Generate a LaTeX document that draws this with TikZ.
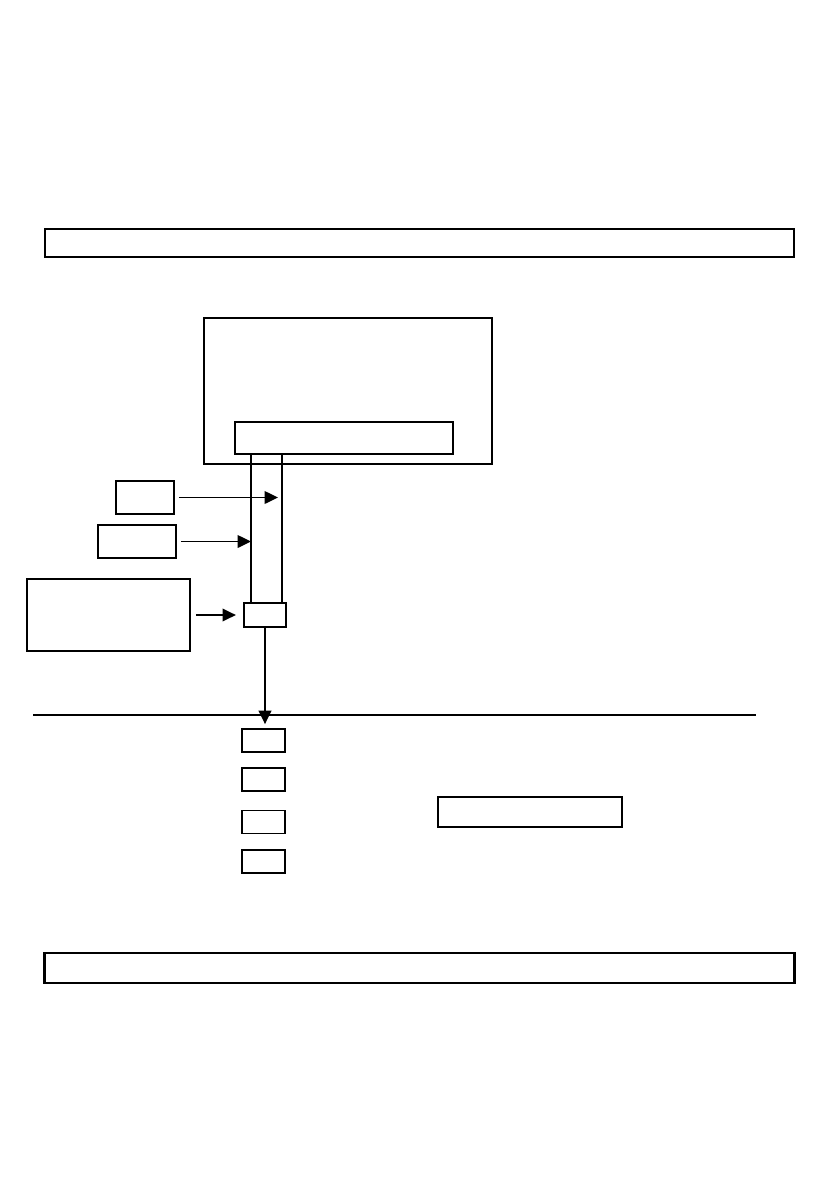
\documentclass[tikz,border=0pt]{standalone}
\usepackage{tikz}
\usetikzlibrary{arrows.meta,positioning,calc}

\begin{document}
\begin{tikzpicture}[
  x=0.025cm, y=-0.025cm,
  box/.style={draw, line width=1.3pt, inner sep=0pt},
  bigbox/.style={box, line width=2pt},
  slot/.style={box, minimum width=1.075cm, minimum height=0.575cm},
  wire/.style={line width=0.8pt},
  arrow/.style={-{Triangle[length=9.5pt, width=9pt]}, line width=1.1pt},
]
  \useasboundingbox (0,0) rectangle (840,1190);

  % Top bar
  \node[box, minimum width=18.725cm, minimum height=0.7cm] (topbar) at (419.5,243) {};

  % Main unit with its panel
  \node[bigbox, minimum width=7.2cm, minimum height=3.65cm] (unit) at (348,391) {};
  \node[box, line width=1.1pt, minimum width=5.45cm, minimum height=0.8cm] (panel) at (344,438) {};

  % Inputs
  \node[box, minimum width=1.45cm, minimum height=0.825cm] (inA) at (145,497.5) {};
  \node[box, minimum width=1.95cm, minimum height=0.825cm] (inB) at (137,541.5) {};
  \node[box, minimum width=4.075cm, minimum height=1.8cm] (inC) at (108.5,615) {};
  \node[box, line width=1.6pt, minimum width=1.05cm, minimum height=0.6cm] (junc) at (265,615) {};

  % Wires from the panel
  \coordinate (wL) at (251,500);
  \coordinate (wR) at (282,500);
  \draw[wire] (wL |- panel.south) -- (wL |- junc.north);
  \draw[wire] (wR |- panel.south) -- (wR |- junc.north);

  % Arrows
  \draw[arrow, shorten <=0.1cm, shorten >=0.1cm] (inA) -- (inA -| wR);
  \draw[arrow, shorten <=0.1cm] (inB) -- (inB -| wL);
  \draw[arrow, shorten <=0.125cm, shorten >=0.175cm] (inC) -- (junc);

  % Divider
  \coordinate (divL) at (33,715);
  \coordinate (divR) at (756,715);
  \draw[wire] (divL) -- (divR);

  % Slots below the divider
  \node[slot] (s1) at (263.5,740.5) {};
  \node[slot] (s2) at (263.5,779.5) {};
  \node[slot] (s3) at (263.5,822) {};
  \node[slot] (s4) at (263.5,861.5) {};
  \draw[arrow, shorten >=0.1cm] (junc.south) -- (junc.south |- s1.north);

  \node[box, minimum width=4.6cm, minimum height=0.75cm] (side) at (530,812) {};

  % Bottom bar
  \node[bigbox, minimum width=18.725cm, minimum height=0.75cm] (botbar) at (419.5,968) {};
\end{tikzpicture}
\end{document}
